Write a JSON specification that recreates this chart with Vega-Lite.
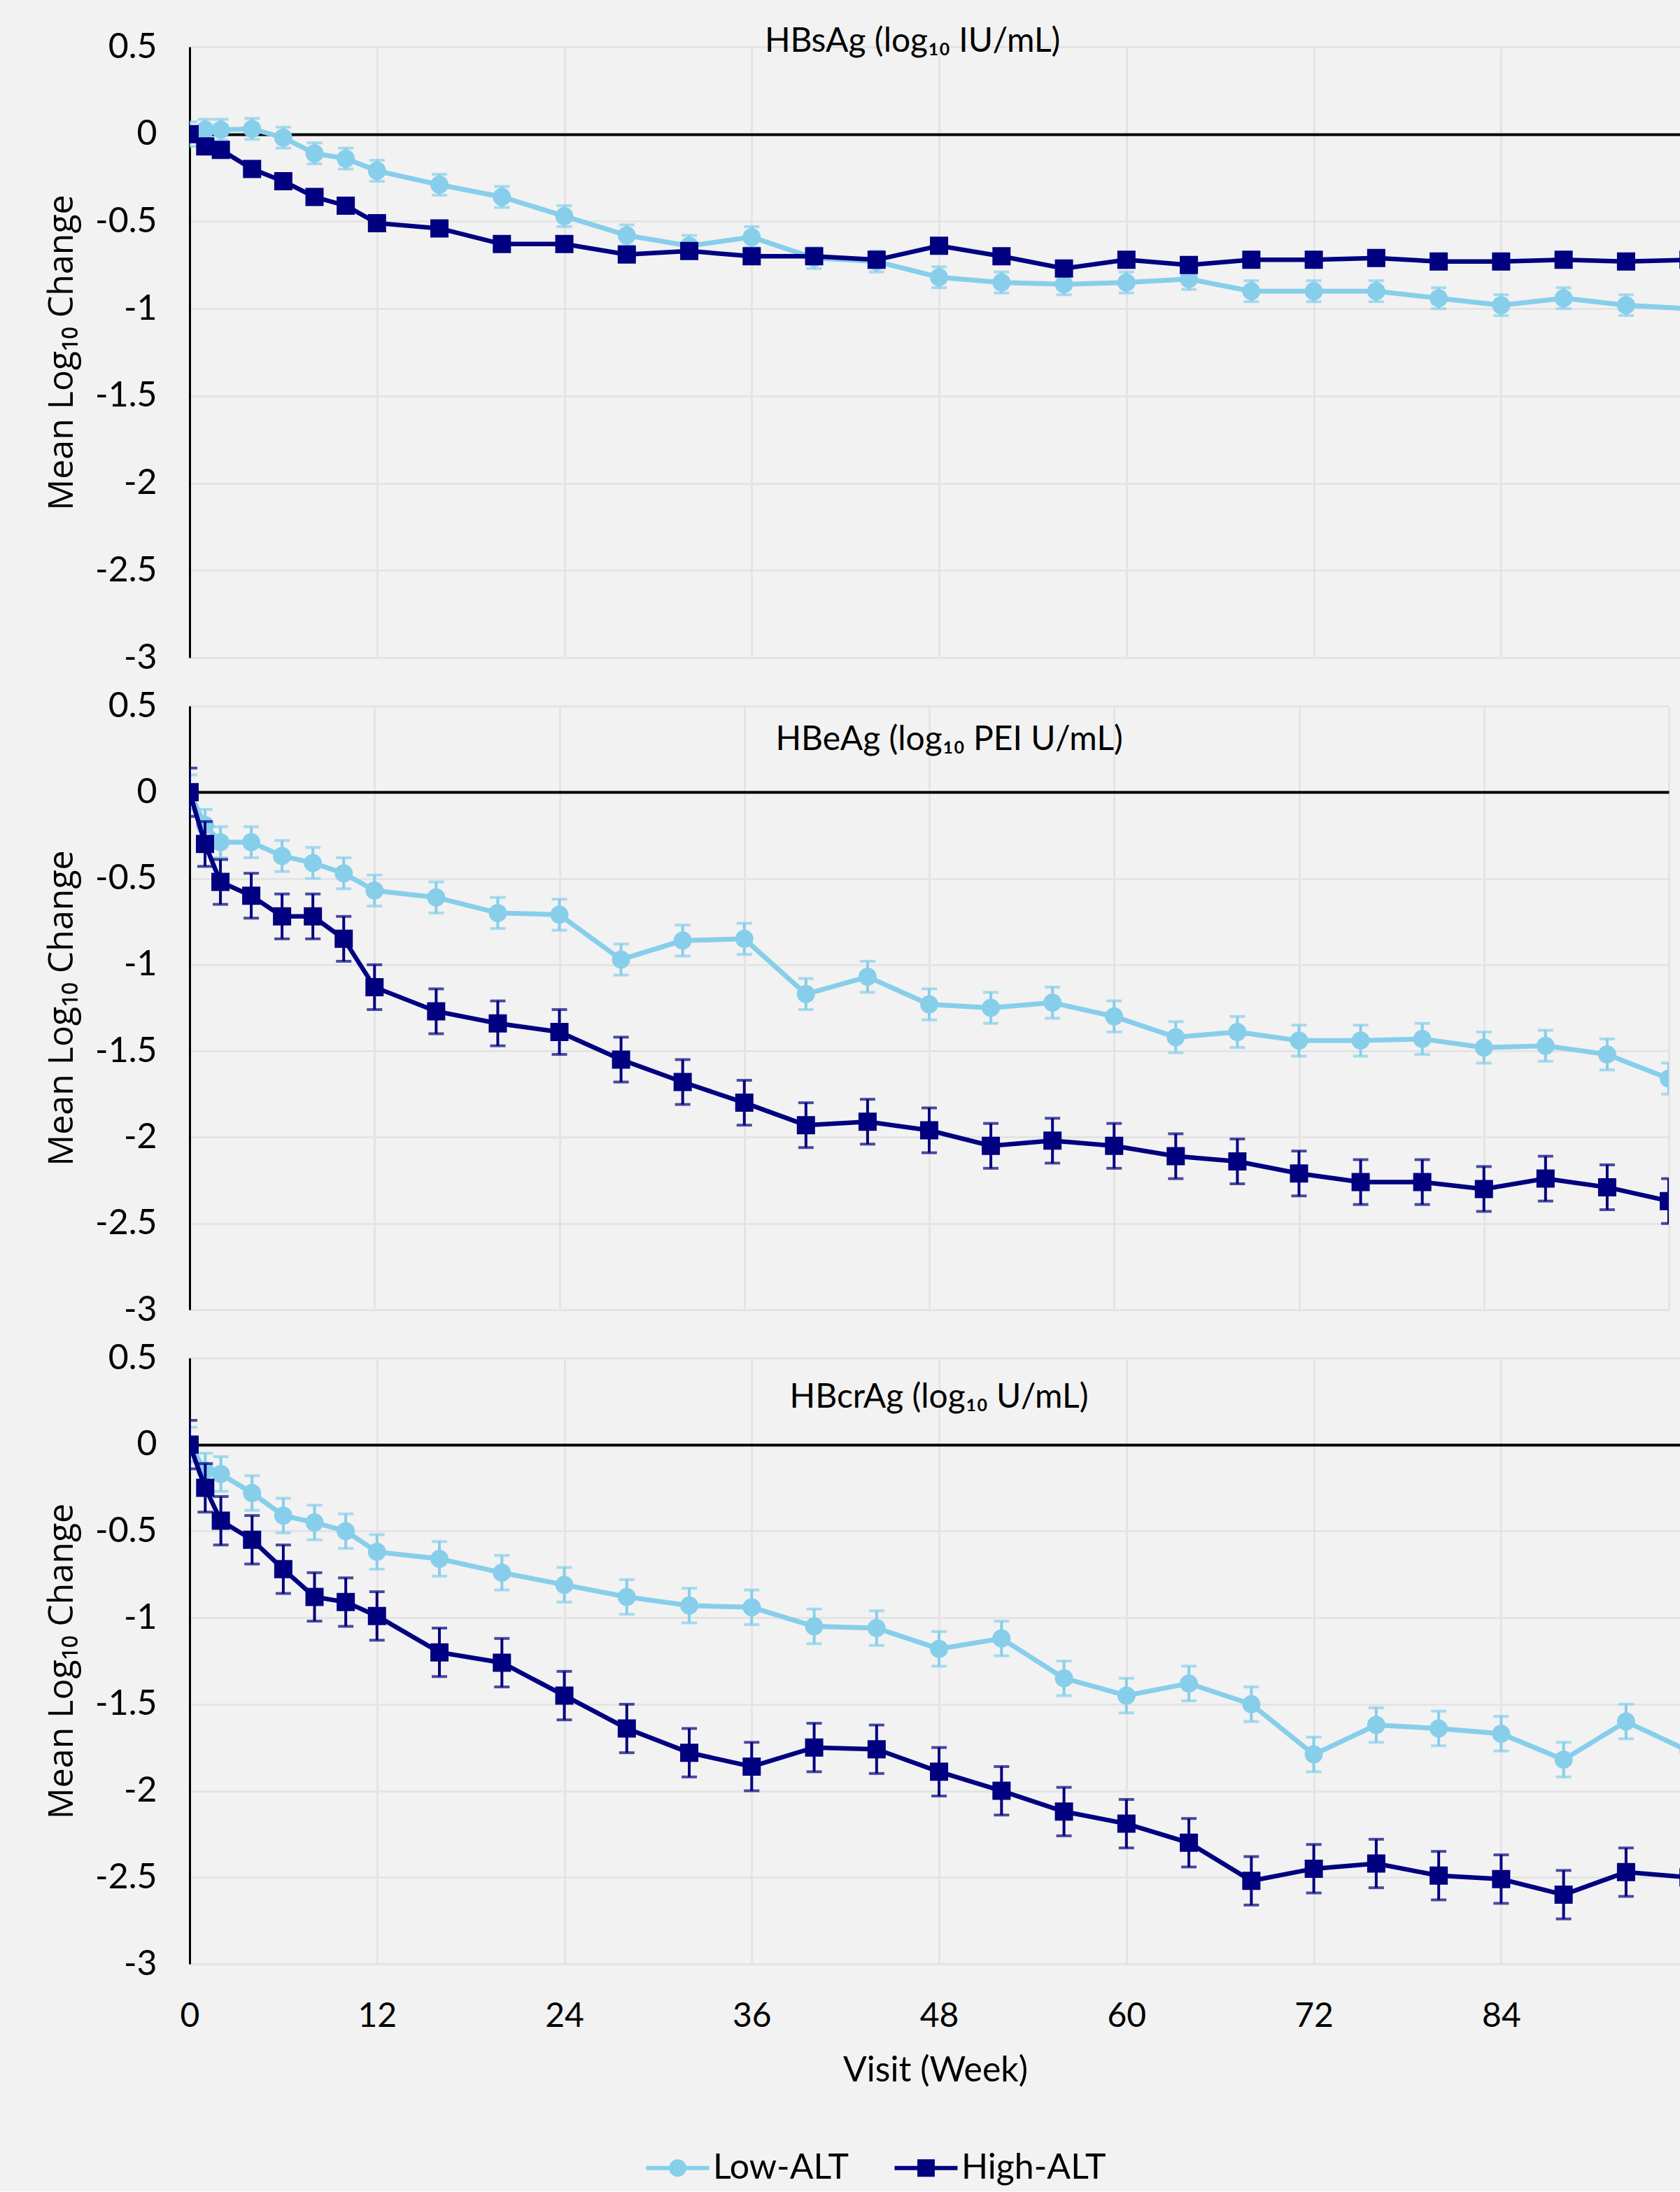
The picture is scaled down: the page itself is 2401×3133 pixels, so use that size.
{
"$schema": "https://vega.github.io/schema/vega-lite/v6.json",
"padding": {"left": 63, "top": 35, "right": 0, "bottom": 8},
"background": "#f2f2f2",
"datasets": {"vals": [
{"panel":"HBsAg","group":"Low-ALT","week":0,"mean":0,"lo":-0.07,"hi":0.07},
{"panel":"HBsAg","group":"Low-ALT","week":1,"mean":0.025,"lo":-0.035,"hi":0.085},
{"panel":"HBsAg","group":"Low-ALT","week":2,"mean":0.025,"lo":-0.035,"hi":0.085},
{"panel":"HBsAg","group":"Low-ALT","week":4,"mean":0.03,"lo":-0.03,"hi":0.09},
{"panel":"HBsAg","group":"Low-ALT","week":6,"mean":-0.02,"lo":-0.08,"hi":0.04},
{"panel":"HBsAg","group":"Low-ALT","week":8,"mean":-0.11,"lo":-0.17,"hi":-0.05},
{"panel":"HBsAg","group":"Low-ALT","week":10,"mean":-0.14,"lo":-0.2,"hi":-0.08},
{"panel":"HBsAg","group":"Low-ALT","week":12,"mean":-0.21,"lo":-0.27,"hi":-0.15},
{"panel":"HBsAg","group":"Low-ALT","week":16,"mean":-0.29,"lo":-0.35,"hi":-0.23},
{"panel":"HBsAg","group":"Low-ALT","week":20,"mean":-0.36,"lo":-0.42,"hi":-0.3},
{"panel":"HBsAg","group":"Low-ALT","week":24,"mean":-0.47,"lo":-0.53,"hi":-0.41},
{"panel":"HBsAg","group":"Low-ALT","week":28,"mean":-0.58,"lo":-0.64,"hi":-0.52},
{"panel":"HBsAg","group":"Low-ALT","week":32,"mean":-0.64,"lo":-0.7,"hi":-0.58},
{"panel":"HBsAg","group":"Low-ALT","week":36,"mean":-0.59,"lo":-0.65,"hi":-0.53},
{"panel":"HBsAg","group":"Low-ALT","week":40,"mean":-0.71,"lo":-0.77,"hi":-0.65},
{"panel":"HBsAg","group":"Low-ALT","week":44,"mean":-0.73,"lo":-0.79,"hi":-0.67},
{"panel":"HBsAg","group":"Low-ALT","week":48,"mean":-0.82,"lo":-0.88,"hi":-0.76},
{"panel":"HBsAg","group":"Low-ALT","week":52,"mean":-0.85,"lo":-0.91,"hi":-0.79},
{"panel":"HBsAg","group":"Low-ALT","week":56,"mean":-0.86,"lo":-0.92,"hi":-0.8},
{"panel":"HBsAg","group":"Low-ALT","week":60,"mean":-0.85,"lo":-0.91,"hi":-0.79},
{"panel":"HBsAg","group":"Low-ALT","week":64,"mean":-0.83,"lo":-0.89,"hi":-0.77},
{"panel":"HBsAg","group":"Low-ALT","week":68,"mean":-0.9,"lo":-0.96,"hi":-0.84},
{"panel":"HBsAg","group":"Low-ALT","week":72,"mean":-0.9,"lo":-0.96,"hi":-0.84},
{"panel":"HBsAg","group":"Low-ALT","week":76,"mean":-0.9,"lo":-0.96,"hi":-0.84},
{"panel":"HBsAg","group":"Low-ALT","week":80,"mean":-0.94,"lo":-1.0,"hi":-0.88},
{"panel":"HBsAg","group":"Low-ALT","week":84,"mean":-0.98,"lo":-1.04,"hi":-0.92},
{"panel":"HBsAg","group":"Low-ALT","week":88,"mean":-0.94,"lo":-1.0,"hi":-0.88},
{"panel":"HBsAg","group":"Low-ALT","week":92,"mean":-0.98,"lo":-1.04,"hi":-0.92},
{"panel":"HBsAg","group":"Low-ALT","week":96,"mean":-1.0,"lo":-1.06,"hi":-0.94},
{"panel":"HBsAg","group":"High-ALT","week":0,"mean":0,"lo":-0.03,"hi":0.03},
{"panel":"HBsAg","group":"High-ALT","week":1,"mean":-0.07,"lo":-0.1,"hi":-0.04},
{"panel":"HBsAg","group":"High-ALT","week":2,"mean":-0.09,"lo":-0.12,"hi":-0.06},
{"panel":"HBsAg","group":"High-ALT","week":4,"mean":-0.2,"lo":-0.23,"hi":-0.17},
{"panel":"HBsAg","group":"High-ALT","week":6,"mean":-0.27,"lo":-0.3,"hi":-0.24},
{"panel":"HBsAg","group":"High-ALT","week":8,"mean":-0.36,"lo":-0.39,"hi":-0.33},
{"panel":"HBsAg","group":"High-ALT","week":10,"mean":-0.41,"lo":-0.44,"hi":-0.38},
{"panel":"HBsAg","group":"High-ALT","week":12,"mean":-0.51,"lo":-0.54,"hi":-0.48},
{"panel":"HBsAg","group":"High-ALT","week":16,"mean":-0.54,"lo":-0.57,"hi":-0.51},
{"panel":"HBsAg","group":"High-ALT","week":20,"mean":-0.63,"lo":-0.66,"hi":-0.6},
{"panel":"HBsAg","group":"High-ALT","week":24,"mean":-0.63,"lo":-0.66,"hi":-0.6},
{"panel":"HBsAg","group":"High-ALT","week":28,"mean":-0.69,"lo":-0.72,"hi":-0.66},
{"panel":"HBsAg","group":"High-ALT","week":32,"mean":-0.67,"lo":-0.7,"hi":-0.64},
{"panel":"HBsAg","group":"High-ALT","week":36,"mean":-0.7,"lo":-0.73,"hi":-0.67},
{"panel":"HBsAg","group":"High-ALT","week":40,"mean":-0.7,"lo":-0.73,"hi":-0.67},
{"panel":"HBsAg","group":"High-ALT","week":44,"mean":-0.72,"lo":-0.75,"hi":-0.69},
{"panel":"HBsAg","group":"High-ALT","week":48,"mean":-0.64,"lo":-0.67,"hi":-0.61},
{"panel":"HBsAg","group":"High-ALT","week":52,"mean":-0.7,"lo":-0.73,"hi":-0.67},
{"panel":"HBsAg","group":"High-ALT","week":56,"mean":-0.77,"lo":-0.8,"hi":-0.74},
{"panel":"HBsAg","group":"High-ALT","week":60,"mean":-0.72,"lo":-0.75,"hi":-0.69},
{"panel":"HBsAg","group":"High-ALT","week":64,"mean":-0.75,"lo":-0.78,"hi":-0.72},
{"panel":"HBsAg","group":"High-ALT","week":68,"mean":-0.72,"lo":-0.75,"hi":-0.69},
{"panel":"HBsAg","group":"High-ALT","week":72,"mean":-0.72,"lo":-0.75,"hi":-0.69},
{"panel":"HBsAg","group":"High-ALT","week":76,"mean":-0.71,"lo":-0.74,"hi":-0.68},
{"panel":"HBsAg","group":"High-ALT","week":80,"mean":-0.73,"lo":-0.76,"hi":-0.7},
{"panel":"HBsAg","group":"High-ALT","week":84,"mean":-0.73,"lo":-0.76,"hi":-0.7},
{"panel":"HBsAg","group":"High-ALT","week":88,"mean":-0.72,"lo":-0.75,"hi":-0.69},
{"panel":"HBsAg","group":"High-ALT","week":92,"mean":-0.73,"lo":-0.76,"hi":-0.7},
{"panel":"HBsAg","group":"High-ALT","week":96,"mean":-0.72,"lo":-0.75,"hi":-0.69},
{"panel":"HBeAg","group":"Low-ALT","week":0,"mean":0,"lo":-0.1,"hi":0.1},
{"panel":"HBeAg","group":"Low-ALT","week":1,"mean":-0.19,"lo":-0.28,"hi":-0.1},
{"panel":"HBeAg","group":"Low-ALT","week":2,"mean":-0.29,"lo":-0.38,"hi":-0.2},
{"panel":"HBeAg","group":"Low-ALT","week":4,"mean":-0.29,"lo":-0.38,"hi":-0.2},
{"panel":"HBeAg","group":"Low-ALT","week":6,"mean":-0.37,"lo":-0.46,"hi":-0.28},
{"panel":"HBeAg","group":"Low-ALT","week":8,"mean":-0.41,"lo":-0.5,"hi":-0.32},
{"panel":"HBeAg","group":"Low-ALT","week":10,"mean":-0.47,"lo":-0.56,"hi":-0.38},
{"panel":"HBeAg","group":"Low-ALT","week":12,"mean":-0.57,"lo":-0.66,"hi":-0.48},
{"panel":"HBeAg","group":"Low-ALT","week":16,"mean":-0.61,"lo":-0.7,"hi":-0.52},
{"panel":"HBeAg","group":"Low-ALT","week":20,"mean":-0.7,"lo":-0.79,"hi":-0.61},
{"panel":"HBeAg","group":"Low-ALT","week":24,"mean":-0.71,"lo":-0.8,"hi":-0.62},
{"panel":"HBeAg","group":"Low-ALT","week":28,"mean":-0.97,"lo":-1.06,"hi":-0.88},
{"panel":"HBeAg","group":"Low-ALT","week":32,"mean":-0.86,"lo":-0.95,"hi":-0.77},
{"panel":"HBeAg","group":"Low-ALT","week":36,"mean":-0.85,"lo":-0.94,"hi":-0.76},
{"panel":"HBeAg","group":"Low-ALT","week":40,"mean":-1.17,"lo":-1.26,"hi":-1.08},
{"panel":"HBeAg","group":"Low-ALT","week":44,"mean":-1.07,"lo":-1.16,"hi":-0.98},
{"panel":"HBeAg","group":"Low-ALT","week":48,"mean":-1.23,"lo":-1.32,"hi":-1.14},
{"panel":"HBeAg","group":"Low-ALT","week":52,"mean":-1.25,"lo":-1.34,"hi":-1.16},
{"panel":"HBeAg","group":"Low-ALT","week":56,"mean":-1.22,"lo":-1.31,"hi":-1.13},
{"panel":"HBeAg","group":"Low-ALT","week":60,"mean":-1.3,"lo":-1.39,"hi":-1.21},
{"panel":"HBeAg","group":"Low-ALT","week":64,"mean":-1.42,"lo":-1.51,"hi":-1.33},
{"panel":"HBeAg","group":"Low-ALT","week":68,"mean":-1.39,"lo":-1.48,"hi":-1.3},
{"panel":"HBeAg","group":"Low-ALT","week":72,"mean":-1.44,"lo":-1.53,"hi":-1.35},
{"panel":"HBeAg","group":"Low-ALT","week":76,"mean":-1.44,"lo":-1.53,"hi":-1.35},
{"panel":"HBeAg","group":"Low-ALT","week":80,"mean":-1.43,"lo":-1.52,"hi":-1.34},
{"panel":"HBeAg","group":"Low-ALT","week":84,"mean":-1.48,"lo":-1.57,"hi":-1.39},
{"panel":"HBeAg","group":"Low-ALT","week":88,"mean":-1.47,"lo":-1.56,"hi":-1.38},
{"panel":"HBeAg","group":"Low-ALT","week":92,"mean":-1.52,"lo":-1.61,"hi":-1.43},
{"panel":"HBeAg","group":"Low-ALT","week":96,"mean":-1.66,"lo":-1.75,"hi":-1.57},
{"panel":"HBeAg","group":"High-ALT","week":0,"mean":0,"lo":-0.14,"hi":0.14},
{"panel":"HBeAg","group":"High-ALT","week":1,"mean":-0.3,"lo":-0.43,"hi":-0.17},
{"panel":"HBeAg","group":"High-ALT","week":2,"mean":-0.52,"lo":-0.65,"hi":-0.39},
{"panel":"HBeAg","group":"High-ALT","week":4,"mean":-0.6,"lo":-0.73,"hi":-0.47},
{"panel":"HBeAg","group":"High-ALT","week":6,"mean":-0.72,"lo":-0.85,"hi":-0.59},
{"panel":"HBeAg","group":"High-ALT","week":8,"mean":-0.72,"lo":-0.85,"hi":-0.59},
{"panel":"HBeAg","group":"High-ALT","week":10,"mean":-0.85,"lo":-0.98,"hi":-0.72},
{"panel":"HBeAg","group":"High-ALT","week":12,"mean":-1.13,"lo":-1.26,"hi":-1.0},
{"panel":"HBeAg","group":"High-ALT","week":16,"mean":-1.27,"lo":-1.4,"hi":-1.14},
{"panel":"HBeAg","group":"High-ALT","week":20,"mean":-1.34,"lo":-1.47,"hi":-1.21},
{"panel":"HBeAg","group":"High-ALT","week":24,"mean":-1.39,"lo":-1.52,"hi":-1.26},
{"panel":"HBeAg","group":"High-ALT","week":28,"mean":-1.55,"lo":-1.68,"hi":-1.42},
{"panel":"HBeAg","group":"High-ALT","week":32,"mean":-1.68,"lo":-1.81,"hi":-1.55},
{"panel":"HBeAg","group":"High-ALT","week":36,"mean":-1.8,"lo":-1.93,"hi":-1.67},
{"panel":"HBeAg","group":"High-ALT","week":40,"mean":-1.93,"lo":-2.06,"hi":-1.8},
{"panel":"HBeAg","group":"High-ALT","week":44,"mean":-1.91,"lo":-2.04,"hi":-1.78},
{"panel":"HBeAg","group":"High-ALT","week":48,"mean":-1.96,"lo":-2.09,"hi":-1.83},
{"panel":"HBeAg","group":"High-ALT","week":52,"mean":-2.05,"lo":-2.18,"hi":-1.92},
{"panel":"HBeAg","group":"High-ALT","week":56,"mean":-2.02,"lo":-2.15,"hi":-1.89},
{"panel":"HBeAg","group":"High-ALT","week":60,"mean":-2.05,"lo":-2.18,"hi":-1.92},
{"panel":"HBeAg","group":"High-ALT","week":64,"mean":-2.11,"lo":-2.24,"hi":-1.98},
{"panel":"HBeAg","group":"High-ALT","week":68,"mean":-2.14,"lo":-2.27,"hi":-2.01},
{"panel":"HBeAg","group":"High-ALT","week":72,"mean":-2.21,"lo":-2.34,"hi":-2.08},
{"panel":"HBeAg","group":"High-ALT","week":76,"mean":-2.26,"lo":-2.39,"hi":-2.13},
{"panel":"HBeAg","group":"High-ALT","week":80,"mean":-2.26,"lo":-2.39,"hi":-2.13},
{"panel":"HBeAg","group":"High-ALT","week":84,"mean":-2.3,"lo":-2.43,"hi":-2.17},
{"panel":"HBeAg","group":"High-ALT","week":88,"mean":-2.24,"lo":-2.37,"hi":-2.11},
{"panel":"HBeAg","group":"High-ALT","week":92,"mean":-2.29,"lo":-2.42,"hi":-2.16},
{"panel":"HBeAg","group":"High-ALT","week":96,"mean":-2.37,"lo":-2.5,"hi":-2.24},
{"panel":"HBcrAg","group":"Low-ALT","week":0,"mean":0,"lo":-0.1,"hi":0.1},
{"panel":"HBcrAg","group":"Low-ALT","week":1,"mean":-0.15,"lo":-0.25,"hi":-0.05},
{"panel":"HBcrAg","group":"Low-ALT","week":2,"mean":-0.17,"lo":-0.27,"hi":-0.07},
{"panel":"HBcrAg","group":"Low-ALT","week":4,"mean":-0.28,"lo":-0.38,"hi":-0.18},
{"panel":"HBcrAg","group":"Low-ALT","week":6,"mean":-0.41,"lo":-0.51,"hi":-0.31},
{"panel":"HBcrAg","group":"Low-ALT","week":8,"mean":-0.45,"lo":-0.55,"hi":-0.35},
{"panel":"HBcrAg","group":"Low-ALT","week":10,"mean":-0.5,"lo":-0.6,"hi":-0.4},
{"panel":"HBcrAg","group":"Low-ALT","week":12,"mean":-0.62,"lo":-0.72,"hi":-0.52},
{"panel":"HBcrAg","group":"Low-ALT","week":16,"mean":-0.66,"lo":-0.76,"hi":-0.56},
{"panel":"HBcrAg","group":"Low-ALT","week":20,"mean":-0.74,"lo":-0.84,"hi":-0.64},
{"panel":"HBcrAg","group":"Low-ALT","week":24,"mean":-0.81,"lo":-0.91,"hi":-0.71},
{"panel":"HBcrAg","group":"Low-ALT","week":28,"mean":-0.88,"lo":-0.98,"hi":-0.78},
{"panel":"HBcrAg","group":"Low-ALT","week":32,"mean":-0.93,"lo":-1.03,"hi":-0.83},
{"panel":"HBcrAg","group":"Low-ALT","week":36,"mean":-0.94,"lo":-1.04,"hi":-0.84},
{"panel":"HBcrAg","group":"Low-ALT","week":40,"mean":-1.05,"lo":-1.15,"hi":-0.95},
{"panel":"HBcrAg","group":"Low-ALT","week":44,"mean":-1.06,"lo":-1.16,"hi":-0.96},
{"panel":"HBcrAg","group":"Low-ALT","week":48,"mean":-1.18,"lo":-1.28,"hi":-1.08},
{"panel":"HBcrAg","group":"Low-ALT","week":52,"mean":-1.12,"lo":-1.22,"hi":-1.02},
{"panel":"HBcrAg","group":"Low-ALT","week":56,"mean":-1.35,"lo":-1.45,"hi":-1.25},
{"panel":"HBcrAg","group":"Low-ALT","week":60,"mean":-1.45,"lo":-1.55,"hi":-1.35},
{"panel":"HBcrAg","group":"Low-ALT","week":64,"mean":-1.38,"lo":-1.48,"hi":-1.28},
{"panel":"HBcrAg","group":"Low-ALT","week":68,"mean":-1.5,"lo":-1.6,"hi":-1.4},
{"panel":"HBcrAg","group":"Low-ALT","week":72,"mean":-1.79,"lo":-1.89,"hi":-1.69},
{"panel":"HBcrAg","group":"Low-ALT","week":76,"mean":-1.62,"lo":-1.72,"hi":-1.52},
{"panel":"HBcrAg","group":"Low-ALT","week":80,"mean":-1.64,"lo":-1.74,"hi":-1.54},
{"panel":"HBcrAg","group":"Low-ALT","week":84,"mean":-1.67,"lo":-1.77,"hi":-1.57},
{"panel":"HBcrAg","group":"Low-ALT","week":88,"mean":-1.82,"lo":-1.92,"hi":-1.72},
{"panel":"HBcrAg","group":"Low-ALT","week":92,"mean":-1.6,"lo":-1.7,"hi":-1.5},
{"panel":"HBcrAg","group":"Low-ALT","week":96,"mean":-1.77,"lo":-1.87,"hi":-1.67},
{"panel":"HBcrAg","group":"High-ALT","week":0,"mean":0,"lo":-0.14,"hi":0.14},
{"panel":"HBcrAg","group":"High-ALT","week":1,"mean":-0.25,"lo":-0.39,"hi":-0.11},
{"panel":"HBcrAg","group":"High-ALT","week":2,"mean":-0.44,"lo":-0.58,"hi":-0.3},
{"panel":"HBcrAg","group":"High-ALT","week":4,"mean":-0.55,"lo":-0.69,"hi":-0.41},
{"panel":"HBcrAg","group":"High-ALT","week":6,"mean":-0.72,"lo":-0.86,"hi":-0.58},
{"panel":"HBcrAg","group":"High-ALT","week":8,"mean":-0.88,"lo":-1.02,"hi":-0.74},
{"panel":"HBcrAg","group":"High-ALT","week":10,"mean":-0.91,"lo":-1.05,"hi":-0.77},
{"panel":"HBcrAg","group":"High-ALT","week":12,"mean":-0.99,"lo":-1.13,"hi":-0.85},
{"panel":"HBcrAg","group":"High-ALT","week":16,"mean":-1.2,"lo":-1.34,"hi":-1.06},
{"panel":"HBcrAg","group":"High-ALT","week":20,"mean":-1.26,"lo":-1.4,"hi":-1.12},
{"panel":"HBcrAg","group":"High-ALT","week":24,"mean":-1.45,"lo":-1.59,"hi":-1.31},
{"panel":"HBcrAg","group":"High-ALT","week":28,"mean":-1.64,"lo":-1.78,"hi":-1.5},
{"panel":"HBcrAg","group":"High-ALT","week":32,"mean":-1.78,"lo":-1.92,"hi":-1.64},
{"panel":"HBcrAg","group":"High-ALT","week":36,"mean":-1.86,"lo":-2.0,"hi":-1.72},
{"panel":"HBcrAg","group":"High-ALT","week":40,"mean":-1.75,"lo":-1.89,"hi":-1.61},
{"panel":"HBcrAg","group":"High-ALT","week":44,"mean":-1.76,"lo":-1.9,"hi":-1.62},
{"panel":"HBcrAg","group":"High-ALT","week":48,"mean":-1.89,"lo":-2.03,"hi":-1.75},
{"panel":"HBcrAg","group":"High-ALT","week":52,"mean":-2.0,"lo":-2.14,"hi":-1.86},
{"panel":"HBcrAg","group":"High-ALT","week":56,"mean":-2.12,"lo":-2.26,"hi":-1.98},
{"panel":"HBcrAg","group":"High-ALT","week":60,"mean":-2.19,"lo":-2.33,"hi":-2.05},
{"panel":"HBcrAg","group":"High-ALT","week":64,"mean":-2.3,"lo":-2.44,"hi":-2.16},
{"panel":"HBcrAg","group":"High-ALT","week":68,"mean":-2.52,"lo":-2.66,"hi":-2.38},
{"panel":"HBcrAg","group":"High-ALT","week":72,"mean":-2.45,"lo":-2.59,"hi":-2.31},
{"panel":"HBcrAg","group":"High-ALT","week":76,"mean":-2.42,"lo":-2.56,"hi":-2.28},
{"panel":"HBcrAg","group":"High-ALT","week":80,"mean":-2.49,"lo":-2.63,"hi":-2.35},
{"panel":"HBcrAg","group":"High-ALT","week":84,"mean":-2.51,"lo":-2.65,"hi":-2.37},
{"panel":"HBcrAg","group":"High-ALT","week":88,"mean":-2.6,"lo":-2.74,"hi":-2.46},
{"panel":"HBcrAg","group":"High-ALT","week":92,"mean":-2.47,"lo":-2.61,"hi":-2.33},
{"panel":"HBcrAg","group":"High-ALT","week":96,"mean":-2.5,"lo":-2.64,"hi":-2.36}
]},
"vconcat": [
{
"width": 2131, "height": 873,
"data": {"name": "vals"},
"layer": [
{"transform": [{"filter": "datum.panel == 'HBsAg' && datum.group == 'Low-ALT'"}],
 "mark": {"type": "line", "strokeWidth": 7, "clip": true},
 "encoding": {
  "x": {"field": "week", "type": "quantitative", "title": null, "scale": {"domain": [0, 95.5], "nice": false, "zero": false},
        "axis": {"values": [0,12,24,36,48,60,72,84], "labels": false, "title": null, "domain": false, "grid": true, "gridColor": "#e4e4e4", "gridWidth": 3}},
  "y": {"field": "mean", "type": "quantitative", "title": "Mean Log₁₀ Change", "scale": {"domain": [-3, 0.5], "nice": false, "zero": false},
        "axis": {"values": [0.5,0,-0.5,-1,-1.5,-2,-2.5,-3], "labelExpr": "toString(datum.value)", "title": "Mean Log₁₀ Change", "titleFont": "Open Sans", "titleFontSize": 50, "titleFontWeight": "normal", "titlePadding": 22, "labelFontSize": 50, "labelPadding": 47, "domain": true, "domainColor": "#000", "domainWidth": 3, "grid": true,
                 "gridColor": {"condition": {"test": "datum.value === 0", "value": "#000"}, "value": "#e4e4e4"},
                 "gridWidth": {"condition": {"test": "datum.value === 0", "value": 4}, "value": 3}}},
  "stroke": {"field": "group", "type": "nominal", "scale": {"domain": ["Low-ALT", "High-ALT"], "range": ["#87CEEB", "#000080"]},
   "legend": {"orient": "none", "legendX": 672, "legendY": 3006, "direction": "horizontal", "title": null, "padding": 0,
     "symbolSize": 2025, "symbolType": "M-2,0H2M0.42,0A0.42,0.42,0,1,1,-0.42,0A0.42,0.42,0,1,1,0.42,0Z", "symbolStrokeWidth": 6,
     "labelFont": "Lato", "labelFontSize": 50, "labelColor": "#000", "labelOffset": 25, "labelLimit": 0, "columnPadding": 52}}
 }},
{"transform": [{"filter": "datum.panel == 'HBsAg' && datum.group == 'Low-ALT'"}],
 "mark": {"type": "rule", "color": "#87CEEB", "strokeWidth": 4, "clip": true},
 "encoding": {"x": {"field": "week", "type": "quantitative", "title": null, "scale": {"domain": [0, 95.5], "nice": false, "zero": false}},
  "y": {"field": "lo", "type": "quantitative", "title": "Mean Log₁₀ Change", "scale": {"domain": [-3, 0.5], "nice": false, "zero": false}}, "y2": {"field": "hi"}}},
{"transform": [{"filter": "datum.panel == 'HBsAg' && datum.group == 'Low-ALT'"}],
 "mark": {"type": "tick", "orient": "horizontal", "color": "#87CEEB", "size": 22, "thickness": 4, "clip": true},
 "encoding": {"x": {"field": "week", "type": "quantitative", "title": null, "scale": {"domain": [0, 95.5], "nice": false, "zero": false}},
  "y": {"field": "lo", "type": "quantitative", "title": "Mean Log₁₀ Change", "scale": {"domain": [-3, 0.5], "nice": false, "zero": false}}}},
{"transform": [{"filter": "datum.panel == 'HBsAg' && datum.group == 'Low-ALT'"}],
 "mark": {"type": "tick", "orient": "horizontal", "color": "#87CEEB", "size": 22, "thickness": 4, "clip": true},
 "encoding": {"x": {"field": "week", "type": "quantitative", "title": null, "scale": {"domain": [0, 95.5], "nice": false, "zero": false}},
  "y": {"field": "hi", "type": "quantitative", "title": "Mean Log₁₀ Change", "scale": {"domain": [-3, 0.5], "nice": false, "zero": false}}}},
{"transform": [{"filter": "datum.panel == 'HBsAg' && datum.group == 'Low-ALT'"}],
 "mark": {"type": "point", "filled": true, "size": 3832, "opacity": 1, "strokeWidth": 0, "clip": true},
 "encoding": {"x": {"field": "week", "type": "quantitative", "title": null, "scale": {"domain": [0, 95.5], "nice": false, "zero": false}},
  "y": {"field": "mean", "type": "quantitative", "title": "Mean Log₁₀ Change", "scale": {"domain": [-3, 0.5], "nice": false, "zero": false}},
  "fill": {"field": "group", "type": "nominal", "scale": {"domain": ["Low-ALT", "High-ALT"], "range": ["#87CEEB", "#000080"]},
   "legend": {"orient": "none", "legendX": 672, "legendY": 3006, "direction": "horizontal", "title": null, "padding": 0,
     "symbolSize": 2025, "symbolType": "M-2,0H2M0.42,0A0.42,0.42,0,1,1,-0.42,0A0.42,0.42,0,1,1,0.42,0Z", "symbolStrokeWidth": 6,
     "labelFont": "Lato", "labelFontSize": 50, "labelColor": "#000", "labelOffset": 25, "labelLimit": 0, "columnPadding": 52}},
  "shape": {"field": "group", "type": "nominal", "scale": {"domain": ["Low-ALT", "High-ALT"], "range": ["M-2,0H2M0.42,0A0.42,0.42,0,1,1,-0.42,0A0.42,0.42,0,1,1,0.42,0Z", "M-2,0H2M-0.42,-0.42H0.42V0.42H-0.42Z"]},
   "legend": {"orient": "none", "legendX": 672, "legendY": 3006, "direction": "horizontal", "title": null, "padding": 0,
     "symbolSize": 2025, "symbolType": "M-2,0H2M0.42,0A0.42,0.42,0,1,1,-0.42,0A0.42,0.42,0,1,1,0.42,0Z", "symbolStrokeWidth": 6,
     "labelFont": "Lato", "labelFontSize": 50, "labelColor": "#000", "labelOffset": 25, "labelLimit": 0, "columnPadding": 52}}}},
{"transform": [{"filter": "datum.panel == 'HBsAg' && datum.group == 'High-ALT'"}],
 "mark": {"type": "line", "strokeWidth": 6.5, "clip": true},
 "encoding": {"x": {"field": "week", "type": "quantitative", "title": null, "scale": {"domain": [0, 95.5], "nice": false, "zero": false}},
  "y": {"field": "mean", "type": "quantitative", "title": "Mean Log₁₀ Change", "scale": {"domain": [-3, 0.5], "nice": false, "zero": false}},
  "stroke": {"field": "group", "type": "nominal", "scale": {"domain": ["Low-ALT", "High-ALT"], "range": ["#87CEEB", "#000080"]}, "legend": null}}},
{"transform": [{"filter": "datum.panel == 'HBsAg' && datum.group == 'High-ALT'"}],
 "mark": {"type": "rule", "color": "#000080", "strokeWidth": 4, "clip": true},
 "encoding": {"x": {"field": "week", "type": "quantitative", "title": null, "scale": {"domain": [0, 95.5], "nice": false, "zero": false}},
  "y": {"field": "lo", "type": "quantitative", "title": "Mean Log₁₀ Change", "scale": {"domain": [-3, 0.5], "nice": false, "zero": false}}, "y2": {"field": "hi"}}},
{"transform": [{"filter": "datum.panel == 'HBsAg' && datum.group == 'High-ALT'"}],
 "mark": {"type": "tick", "orient": "horizontal", "color": "#000080", "size": 22, "thickness": 4, "clip": true},
 "encoding": {"x": {"field": "week", "type": "quantitative", "title": null, "scale": {"domain": [0, 95.5], "nice": false, "zero": false}},
  "y": {"field": "lo", "type": "quantitative", "title": "Mean Log₁₀ Change", "scale": {"domain": [-3, 0.5], "nice": false, "zero": false}}}},
{"transform": [{"filter": "datum.panel == 'HBsAg' && datum.group == 'High-ALT'"}],
 "mark": {"type": "tick", "orient": "horizontal", "color": "#000080", "size": 22, "thickness": 4, "clip": true},
 "encoding": {"x": {"field": "week", "type": "quantitative", "title": null, "scale": {"domain": [0, 95.5], "nice": false, "zero": false}},
  "y": {"field": "hi", "type": "quantitative", "title": "Mean Log₁₀ Change", "scale": {"domain": [-3, 0.5], "nice": false, "zero": false}}}},
{"transform": [{"filter": "datum.panel == 'HBsAg' && datum.group == 'High-ALT'"}],
 "mark": {"type": "point", "filled": true, "size": 3832, "opacity": 1, "strokeWidth": 0, "clip": true},
 "encoding": {"x": {"field": "week", "type": "quantitative", "title": null, "scale": {"domain": [0, 95.5], "nice": false, "zero": false}},
  "y": {"field": "mean", "type": "quantitative", "title": "Mean Log₁₀ Change", "scale": {"domain": [-3, 0.5], "nice": false, "zero": false}},
  "fill": {"field": "group", "type": "nominal", "scale": {"domain": ["Low-ALT", "High-ALT"], "range": ["#87CEEB", "#000080"]}, "legend": null},
  "shape": {"field": "group", "type": "nominal", "scale": {"domain": ["Low-ALT", "High-ALT"], "range": ["M-2,0H2M0.42,0A0.42,0.42,0,1,1,-0.42,0A0.42,0.42,0,1,1,0.42,0Z", "M-2,0H2M-0.42,-0.42H0.42V0.42H-0.42Z"]}, "legend": null}}},
{"data": {"values": [{"panel": "HBsAg"}]},
 "mark": {"type": "text", "font": "Lato", "fontSize": 48, "color": "#000", "align": "center", "baseline": "middle"},
 "encoding": {"x": {"datum": 46.3, "type": "quantitative", "title": null, "scale": {"domain": [0, 95.5], "nice": false, "zero": false}},
  "y": {"datum": 0.53, "type": "quantitative", "title": "Mean Log₁₀ Change", "scale": {"domain": [-3, 0.5], "nice": false, "zero": false}},
  "text": {"value": "HBsAg (log₁₀ IU/mL)"}}}
]
},
{
"width": 2114, "height": 863,
"data": {"name": "vals"},
"layer": [
{"transform": [{"filter": "datum.panel == 'HBeAg' && datum.group == 'Low-ALT'"}],
 "mark": {"type": "line", "strokeWidth": 7, "clip": true},
 "encoding": {
  "x": {"field": "week", "type": "quantitative", "title": null, "scale": {"domain": [0, 96], "nice": false, "zero": false},
        "axis": {"values": [0,12,24,36,48,60,72,84,96], "labels": false, "title": null, "domain": false, "grid": true, "gridColor": "#e4e4e4", "gridWidth": 3}},
  "y": {"field": "mean", "type": "quantitative", "title": "Mean Log₁₀ Change", "scale": {"domain": [-3, 0.5], "nice": false, "zero": false},
        "axis": {"values": [0.5,0,-0.5,-1,-1.5,-2,-2.5,-3], "labelExpr": "toString(datum.value)", "title": "Mean Log₁₀ Change", "titleFont": "Open Sans", "titleFontSize": 50, "titleFontWeight": "normal", "titlePadding": 22, "labelFontSize": 50, "labelPadding": 47, "domain": true, "domainColor": "#000", "domainWidth": 3, "grid": true,
                 "gridColor": {"condition": {"test": "datum.value === 0", "value": "#000"}, "value": "#e4e4e4"},
                 "gridWidth": {"condition": {"test": "datum.value === 0", "value": 4}, "value": 3}}},
  "stroke": {"field": "group", "type": "nominal", "scale": {"domain": ["Low-ALT", "High-ALT"], "range": ["#87CEEB", "#000080"]}, "legend": null}
 }},
{"transform": [{"filter": "datum.panel == 'HBeAg' && datum.group == 'Low-ALT'"}],
 "mark": {"type": "rule", "color": "#87CEEB", "strokeWidth": 4, "clip": true},
 "encoding": {"x": {"field": "week", "type": "quantitative", "title": null, "scale": {"domain": [0, 96], "nice": false, "zero": false}},
  "y": {"field": "lo", "type": "quantitative", "title": "Mean Log₁₀ Change", "scale": {"domain": [-3, 0.5], "nice": false, "zero": false}}, "y2": {"field": "hi"}}},
{"transform": [{"filter": "datum.panel == 'HBeAg' && datum.group == 'Low-ALT'"}],
 "mark": {"type": "tick", "orient": "horizontal", "color": "#87CEEB", "size": 22, "thickness": 4, "clip": true},
 "encoding": {"x": {"field": "week", "type": "quantitative", "title": null, "scale": {"domain": [0, 96], "nice": false, "zero": false}},
  "y": {"field": "lo", "type": "quantitative", "title": "Mean Log₁₀ Change", "scale": {"domain": [-3, 0.5], "nice": false, "zero": false}}}},
{"transform": [{"filter": "datum.panel == 'HBeAg' && datum.group == 'Low-ALT'"}],
 "mark": {"type": "tick", "orient": "horizontal", "color": "#87CEEB", "size": 22, "thickness": 4, "clip": true},
 "encoding": {"x": {"field": "week", "type": "quantitative", "title": null, "scale": {"domain": [0, 96], "nice": false, "zero": false}},
  "y": {"field": "hi", "type": "quantitative", "title": "Mean Log₁₀ Change", "scale": {"domain": [-3, 0.5], "nice": false, "zero": false}}}},
{"transform": [{"filter": "datum.panel == 'HBeAg' && datum.group == 'Low-ALT'"}],
 "mark": {"type": "point", "filled": true, "size": 3832, "opacity": 1, "strokeWidth": 0, "clip": true},
 "encoding": {"x": {"field": "week", "type": "quantitative", "title": null, "scale": {"domain": [0, 96], "nice": false, "zero": false}},
  "y": {"field": "mean", "type": "quantitative", "title": "Mean Log₁₀ Change", "scale": {"domain": [-3, 0.5], "nice": false, "zero": false}},
  "fill": {"field": "group", "type": "nominal", "scale": {"domain": ["Low-ALT", "High-ALT"], "range": ["#87CEEB", "#000080"]}, "legend": null},
  "shape": {"field": "group", "type": "nominal", "scale": {"domain": ["Low-ALT", "High-ALT"], "range": ["M-2,0H2M0.42,0A0.42,0.42,0,1,1,-0.42,0A0.42,0.42,0,1,1,0.42,0Z", "M-2,0H2M-0.42,-0.42H0.42V0.42H-0.42Z"]}, "legend": null}}},
{"transform": [{"filter": "datum.panel == 'HBeAg' && datum.group == 'High-ALT'"}],
 "mark": {"type": "line", "strokeWidth": 6.5, "clip": true},
 "encoding": {"x": {"field": "week", "type": "quantitative", "title": null, "scale": {"domain": [0, 96], "nice": false, "zero": false}},
  "y": {"field": "mean", "type": "quantitative", "title": "Mean Log₁₀ Change", "scale": {"domain": [-3, 0.5], "nice": false, "zero": false}},
  "stroke": {"field": "group", "type": "nominal", "scale": {"domain": ["Low-ALT", "High-ALT"], "range": ["#87CEEB", "#000080"]}, "legend": null}}},
{"transform": [{"filter": "datum.panel == 'HBeAg' && datum.group == 'High-ALT'"}],
 "mark": {"type": "rule", "color": "#000080", "strokeWidth": 4, "clip": true},
 "encoding": {"x": {"field": "week", "type": "quantitative", "title": null, "scale": {"domain": [0, 96], "nice": false, "zero": false}},
  "y": {"field": "lo", "type": "quantitative", "title": "Mean Log₁₀ Change", "scale": {"domain": [-3, 0.5], "nice": false, "zero": false}}, "y2": {"field": "hi"}}},
{"transform": [{"filter": "datum.panel == 'HBeAg' && datum.group == 'High-ALT'"}],
 "mark": {"type": "tick", "orient": "horizontal", "color": "#000080", "size": 22, "thickness": 4, "clip": true},
 "encoding": {"x": {"field": "week", "type": "quantitative", "title": null, "scale": {"domain": [0, 96], "nice": false, "zero": false}},
  "y": {"field": "lo", "type": "quantitative", "title": "Mean Log₁₀ Change", "scale": {"domain": [-3, 0.5], "nice": false, "zero": false}}}},
{"transform": [{"filter": "datum.panel == 'HBeAg' && datum.group == 'High-ALT'"}],
 "mark": {"type": "tick", "orient": "horizontal", "color": "#000080", "size": 22, "thickness": 4, "clip": true},
 "encoding": {"x": {"field": "week", "type": "quantitative", "title": null, "scale": {"domain": [0, 96], "nice": false, "zero": false}},
  "y": {"field": "hi", "type": "quantitative", "title": "Mean Log₁₀ Change", "scale": {"domain": [-3, 0.5], "nice": false, "zero": false}}}},
{"transform": [{"filter": "datum.panel == 'HBeAg' && datum.group == 'High-ALT'"}],
 "mark": {"type": "point", "filled": true, "size": 3832, "opacity": 1, "strokeWidth": 0, "clip": true},
 "encoding": {"x": {"field": "week", "type": "quantitative", "title": null, "scale": {"domain": [0, 96], "nice": false, "zero": false}},
  "y": {"field": "mean", "type": "quantitative", "title": "Mean Log₁₀ Change", "scale": {"domain": [-3, 0.5], "nice": false, "zero": false}},
  "fill": {"field": "group", "type": "nominal", "scale": {"domain": ["Low-ALT", "High-ALT"], "range": ["#87CEEB", "#000080"]}, "legend": null},
  "shape": {"field": "group", "type": "nominal", "scale": {"domain": ["Low-ALT", "High-ALT"], "range": ["M-2,0H2M0.42,0A0.42,0.42,0,1,1,-0.42,0A0.42,0.42,0,1,1,0.42,0Z", "M-2,0H2M-0.42,-0.42H0.42V0.42H-0.42Z"]}, "legend": null}}},
{"data": {"values": [{"panel": "HBeAg"}]},
 "mark": {"type": "text", "font": "Lato", "fontSize": 48, "color": "#000", "align": "center", "baseline": "middle"},
 "encoding": {"x": {"datum": 49.3, "type": "quantitative", "title": null, "scale": {"domain": [0, 96], "nice": false, "zero": false}},
  "y": {"datum": 0.3, "type": "quantitative", "title": "Mean Log₁₀ Change", "scale": {"domain": [-3, 0.5], "nice": false, "zero": false}},
  "text": {"value": "HBeAg (log₁₀ PEI U/mL)"}}}
]
},
{
"width": 2131, "height": 866,
"data": {"name": "vals"},
"layer": [
{"transform": [{"filter": "datum.panel == 'HBcrAg' && datum.group == 'Low-ALT'"}],
 "mark": {"type": "line", "strokeWidth": 7, "clip": true},
 "encoding": {
  "x": {"field": "week", "type": "quantitative", "title": "Visit (Week)", "scale": {"domain": [0, 95.5], "nice": false, "zero": false},
        "axis": {"values": [0,12,24,36,48,60,72,84], "title": "Visit (Week)", "titleFont": "Lato", "titleFontSize": 50, "titleFontWeight": "normal", "titlePadding": 28, "labelPadding": 51, "domain": false, "grid": true, "gridColor": "#e4e4e4", "gridWidth": 3}},
  "y": {"field": "mean", "type": "quantitative", "title": "Mean Log₁₀ Change", "scale": {"domain": [-3, 0.5], "nice": false, "zero": false},
        "axis": {"values": [0.5,0,-0.5,-1,-1.5,-2,-2.5,-3], "labelExpr": "toString(datum.value)", "title": "Mean Log₁₀ Change", "titleFont": "Open Sans", "titleFontSize": 50, "titleFontWeight": "normal", "titlePadding": 22, "labelFontSize": 50, "labelPadding": 47, "domain": true, "domainColor": "#000", "domainWidth": 3, "grid": true,
                 "gridColor": {"condition": {"test": "datum.value === 0", "value": "#000"}, "value": "#e4e4e4"},
                 "gridWidth": {"condition": {"test": "datum.value === 0", "value": 4}, "value": 3}}},
  "stroke": {"field": "group", "type": "nominal", "scale": {"domain": ["Low-ALT", "High-ALT"], "range": ["#87CEEB", "#000080"]}, "legend": null}
 }},
{"transform": [{"filter": "datum.panel == 'HBcrAg' && datum.group == 'Low-ALT'"}],
 "mark": {"type": "rule", "color": "#87CEEB", "strokeWidth": 4, "clip": true},
 "encoding": {"x": {"field": "week", "type": "quantitative", "title": "Visit (Week)", "scale": {"domain": [0, 95.5], "nice": false, "zero": false}},
  "y": {"field": "lo", "type": "quantitative", "title": "Mean Log₁₀ Change", "scale": {"domain": [-3, 0.5], "nice": false, "zero": false}}, "y2": {"field": "hi"}}},
{"transform": [{"filter": "datum.panel == 'HBcrAg' && datum.group == 'Low-ALT'"}],
 "mark": {"type": "tick", "orient": "horizontal", "color": "#87CEEB", "size": 22, "thickness": 4, "clip": true},
 "encoding": {"x": {"field": "week", "type": "quantitative", "title": "Visit (Week)", "scale": {"domain": [0, 95.5], "nice": false, "zero": false}},
  "y": {"field": "lo", "type": "quantitative", "title": "Mean Log₁₀ Change", "scale": {"domain": [-3, 0.5], "nice": false, "zero": false}}}},
{"transform": [{"filter": "datum.panel == 'HBcrAg' && datum.group == 'Low-ALT'"}],
 "mark": {"type": "tick", "orient": "horizontal", "color": "#87CEEB", "size": 22, "thickness": 4, "clip": true},
 "encoding": {"x": {"field": "week", "type": "quantitative", "title": "Visit (Week)", "scale": {"domain": [0, 95.5], "nice": false, "zero": false}},
  "y": {"field": "hi", "type": "quantitative", "title": "Mean Log₁₀ Change", "scale": {"domain": [-3, 0.5], "nice": false, "zero": false}}}},
{"transform": [{"filter": "datum.panel == 'HBcrAg' && datum.group == 'Low-ALT'"}],
 "mark": {"type": "point", "filled": true, "size": 3832, "opacity": 1, "strokeWidth": 0, "clip": true},
 "encoding": {"x": {"field": "week", "type": "quantitative", "title": "Visit (Week)", "scale": {"domain": [0, 95.5], "nice": false, "zero": false}},
  "y": {"field": "mean", "type": "quantitative", "title": "Mean Log₁₀ Change", "scale": {"domain": [-3, 0.5], "nice": false, "zero": false}},
  "fill": {"field": "group", "type": "nominal", "scale": {"domain": ["Low-ALT", "High-ALT"], "range": ["#87CEEB", "#000080"]}, "legend": null},
  "shape": {"field": "group", "type": "nominal", "scale": {"domain": ["Low-ALT", "High-ALT"], "range": ["M-2,0H2M0.42,0A0.42,0.42,0,1,1,-0.42,0A0.42,0.42,0,1,1,0.42,0Z", "M-2,0H2M-0.42,-0.42H0.42V0.42H-0.42Z"]}, "legend": null}}},
{"transform": [{"filter": "datum.panel == 'HBcrAg' && datum.group == 'High-ALT'"}],
 "mark": {"type": "line", "strokeWidth": 6.5, "clip": true},
 "encoding": {"x": {"field": "week", "type": "quantitative", "title": "Visit (Week)", "scale": {"domain": [0, 95.5], "nice": false, "zero": false}},
  "y": {"field": "mean", "type": "quantitative", "title": "Mean Log₁₀ Change", "scale": {"domain": [-3, 0.5], "nice": false, "zero": false}},
  "stroke": {"field": "group", "type": "nominal", "scale": {"domain": ["Low-ALT", "High-ALT"], "range": ["#87CEEB", "#000080"]}, "legend": null}}},
{"transform": [{"filter": "datum.panel == 'HBcrAg' && datum.group == 'High-ALT'"}],
 "mark": {"type": "rule", "color": "#000080", "strokeWidth": 4, "clip": true},
 "encoding": {"x": {"field": "week", "type": "quantitative", "title": "Visit (Week)", "scale": {"domain": [0, 95.5], "nice": false, "zero": false}},
  "y": {"field": "lo", "type": "quantitative", "title": "Mean Log₁₀ Change", "scale": {"domain": [-3, 0.5], "nice": false, "zero": false}}, "y2": {"field": "hi"}}},
{"transform": [{"filter": "datum.panel == 'HBcrAg' && datum.group == 'High-ALT'"}],
 "mark": {"type": "tick", "orient": "horizontal", "color": "#000080", "size": 22, "thickness": 4, "clip": true},
 "encoding": {"x": {"field": "week", "type": "quantitative", "title": "Visit (Week)", "scale": {"domain": [0, 95.5], "nice": false, "zero": false}},
  "y": {"field": "lo", "type": "quantitative", "title": "Mean Log₁₀ Change", "scale": {"domain": [-3, 0.5], "nice": false, "zero": false}}}},
{"transform": [{"filter": "datum.panel == 'HBcrAg' && datum.group == 'High-ALT'"}],
 "mark": {"type": "tick", "orient": "horizontal", "color": "#000080", "size": 22, "thickness": 4, "clip": true},
 "encoding": {"x": {"field": "week", "type": "quantitative", "title": "Visit (Week)", "scale": {"domain": [0, 95.5], "nice": false, "zero": false}},
  "y": {"field": "hi", "type": "quantitative", "title": "Mean Log₁₀ Change", "scale": {"domain": [-3, 0.5], "nice": false, "zero": false}}}},
{"transform": [{"filter": "datum.panel == 'HBcrAg' && datum.group == 'High-ALT'"}],
 "mark": {"type": "point", "filled": true, "size": 3832, "opacity": 1, "strokeWidth": 0, "clip": true},
 "encoding": {"x": {"field": "week", "type": "quantitative", "title": "Visit (Week)", "scale": {"domain": [0, 95.5], "nice": false, "zero": false}},
  "y": {"field": "mean", "type": "quantitative", "title": "Mean Log₁₀ Change", "scale": {"domain": [-3, 0.5], "nice": false, "zero": false}},
  "fill": {"field": "group", "type": "nominal", "scale": {"domain": ["Low-ALT", "High-ALT"], "range": ["#87CEEB", "#000080"]}, "legend": null},
  "shape": {"field": "group", "type": "nominal", "scale": {"domain": ["Low-ALT", "High-ALT"], "range": ["M-2,0H2M0.42,0A0.42,0.42,0,1,1,-0.42,0A0.42,0.42,0,1,1,0.42,0Z", "M-2,0H2M-0.42,-0.42H0.42V0.42H-0.42Z"]}, "legend": null}}},
{"data": {"values": [{"panel": "HBcrAg"}]},
 "mark": {"type": "text", "font": "Lato", "fontSize": 48, "color": "#000", "align": "center", "baseline": "middle"},
 "encoding": {"x": {"datum": 48.0, "type": "quantitative", "title": "Visit (Week)", "scale": {"domain": [0, 95.5], "nice": false, "zero": false}},
  "y": {"datum": 0.27, "type": "quantitative", "title": "Mean Log₁₀ Change", "scale": {"domain": [-3, 0.5], "nice": false, "zero": false}},
  "text": {"value": "HBcrAg (log₁₀ U/mL)"}}}
]
}
],
"spacing": 69,
"bounds": "flush",
"config": {
 "view": {"stroke": null},
 "axis": {"ticks": false, "tickSize": 0, "domain": false, "labelFont": "Lato", "labelFontSize": 48, "labelColor": "#000", "labelFlush": false, "labelOverlap": false, "titleColor": "#000", "gridColor": "#e4e4e4", "gridWidth": 3}
}
}
